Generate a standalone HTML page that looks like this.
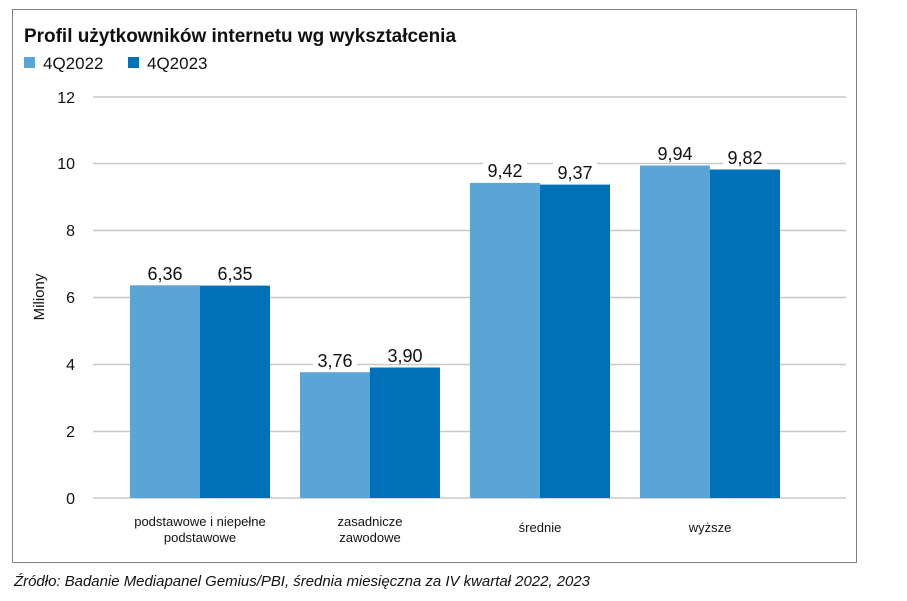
<!DOCTYPE html>
<html><head><meta charset="utf-8"><style>body{margin:0;background:#fff}svg{display:block}</style></head><body>
<svg width="907" height="601" xmlns="http://www.w3.org/2000/svg" font-family="Liberation Sans, sans-serif">
<rect x="12.5" y="9.5" width="844" height="553" fill="#fff" stroke="#808080" stroke-width="1"/>
<text x="24" y="42" font-size="19" font-weight="bold" fill="#111" textLength="432" lengthAdjust="spacingAndGlyphs">Profil użytkowników internetu wg wykształcenia</text>
<rect x="24" y="57" width="11" height="11" fill="#5aa5d6"/><text x="43" y="69" font-size="17" fill="#111">4Q2022</text>
<rect x="128" y="57" width="11" height="11" fill="#0070b8"/><text x="147" y="69" font-size="17" fill="#111">4Q2023</text>
<g stroke="#c8c8c8" stroke-width="1.5">
<line x1="93" x2="846" y1="97" y2="97"/><line x1="93" x2="846" y1="163.5" y2="163.5"/><line x1="93" x2="846" y1="230.5" y2="230.5"/><line x1="93" x2="846" y1="297.5" y2="297.5"/><line x1="93" x2="846" y1="364.5" y2="364.5"/><line x1="93" x2="846" y1="431.5" y2="431.5"/><line x1="93" x2="846" y1="498" y2="498"/>
</g>
<g font-size="16" fill="#111" text-anchor="end">
<text x="75" y="103">12</text><text x="75" y="169">10</text><text x="75" y="236">8</text><text x="75" y="303">6</text><text x="75" y="370">4</text><text x="75" y="437">2</text><text x="75" y="504">0</text>
</g>
<text transform="translate(44,297) rotate(-90)" font-size="15" text-anchor="middle" fill="#111">Miliony</text>
<g fill="#5aa5d6">
<rect x="130" y="285.3" width="70" height="212.7"/><rect x="300" y="372.2" width="70" height="125.8"/><rect x="470" y="182.9" width="70" height="315.1"/><rect x="640" y="165.5" width="70" height="332.5"/>
</g>
<g fill="#0070b8">
<rect x="200" y="285.6" width="70" height="212.4"/><rect x="370" y="367.5" width="70" height="130.5"/><rect x="540" y="184.6" width="70" height="313.4"/><rect x="710" y="169.5" width="70" height="328.5"/>
</g>
<g fill="#fff">
<rect x="143" y="262" width="44" height="20"/><rect x="213" y="262" width="44" height="20"/><rect x="313" y="349" width="44" height="20"/><rect x="383" y="344" width="44" height="20"/><rect x="483" y="159" width="44" height="20"/><rect x="553" y="161" width="44" height="20"/><rect x="653" y="142" width="44" height="20"/><rect x="723" y="146" width="44" height="20"/>
</g>
<g font-size="18" fill="#111" text-anchor="middle">
<text x="165" y="280">6,36</text><text x="235" y="280">6,35</text><text x="335" y="367">3,76</text><text x="405" y="362">3,90</text><text x="505" y="177">9,42</text><text x="575" y="179">9,37</text><text x="675" y="160">9,94</text><text x="745" y="164">9,82</text>
</g>
<g font-size="13" fill="#111" text-anchor="middle">
<text x="200" y="526">podstawowe i niepełne</text><text x="200" y="542">podstawowe</text>
<text x="370" y="526">zasadnicze</text><text x="370" y="542">zawodowe</text>
<text x="540" y="532">średnie</text><text x="710" y="532">wyższe</text>
</g>
<text x="14" y="586" font-size="14.5" font-style="italic" fill="#111" textLength="576" lengthAdjust="spacingAndGlyphs">Źródło: Badanie Mediapanel Gemius/PBI, średnia miesięczna za IV kwartał 2022, 2023</text>
</svg>
</body></html>
